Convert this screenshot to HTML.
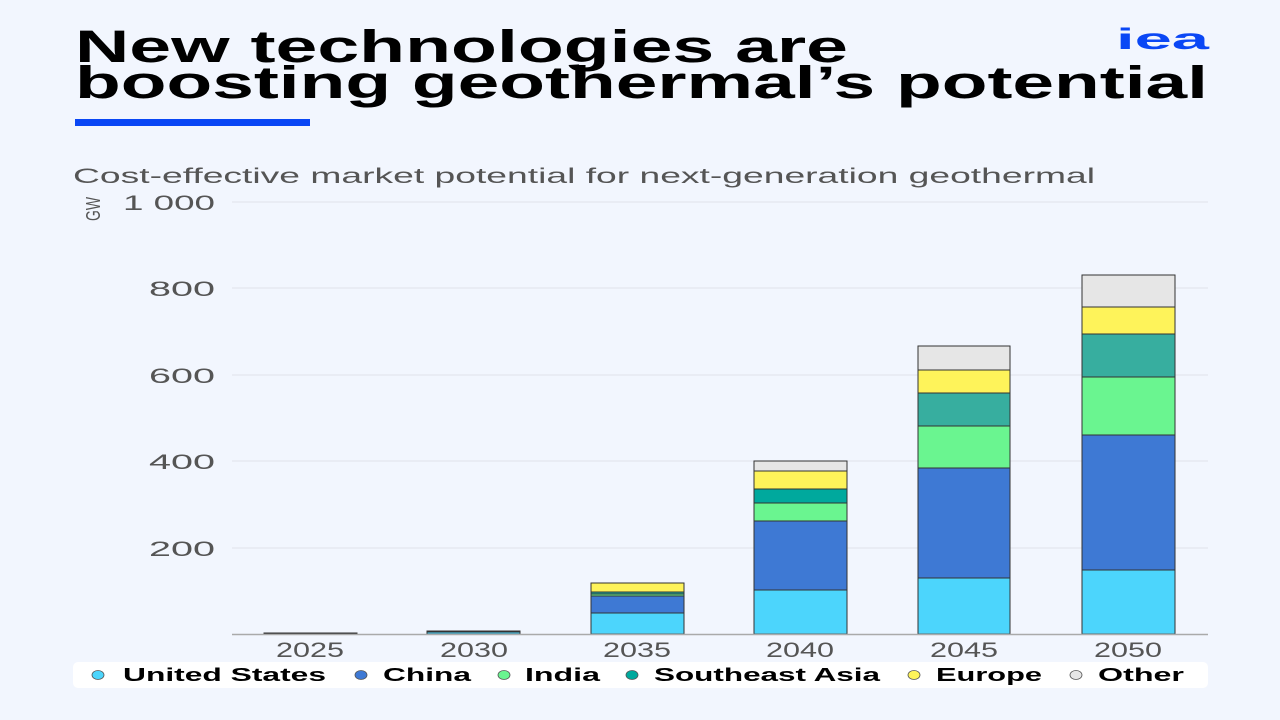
<!DOCTYPE html>
<html><head><meta charset="utf-8"><style>
html,body{margin:0;padding:0;background:#f2f6fe;}
svg{display:block;font-family:"Liberation Sans",sans-serif;}
</style></head><body>
<svg width="1280" height="720" viewBox="0 0 1280 720">
<rect width="1280" height="720" fill="#f2f6fe"/>
<text x="75" y="62" font-size="45" font-weight="bold" textLength="773" lengthAdjust="spacingAndGlyphs" fill="#000">New technologies are</text>
<text x="75" y="98" font-size="45" font-weight="bold" textLength="1133" lengthAdjust="spacingAndGlyphs" fill="#000">boosting geothermal’s potential</text>
<rect x="75" y="119" width="235" height="7" fill="#0a47f5"/>
<text x="1116" y="49" font-size="30" font-weight="bold" textLength="93" lengthAdjust="spacingAndGlyphs" fill="#0a47f5">iea</text>
<text x="73" y="183" font-size="21" fill="#555" textLength="1022" lengthAdjust="spacingAndGlyphs">Cost-effective market potential for next-generation geothermal</text>
<text transform="translate(100,221) rotate(-90)" font-size="20" fill="#555" textLength="24" lengthAdjust="spacingAndGlyphs">GW</text>
<g stroke="#e0e3ea" stroke-width="1">
<line x1="232" y1="202" x2="1208" y2="202"/><line x1="232" y1="288" x2="1208" y2="288"/>
<line x1="232" y1="375" x2="1208" y2="375"/><line x1="232" y1="461" x2="1208" y2="461"/>
<line x1="232" y1="548" x2="1208" y2="548"/>
</g>
<g font-size="21" fill="#555" text-anchor="end">
<text x="215" y="210" textLength="92" lengthAdjust="spacingAndGlyphs">1 000</text>
<text x="215" y="296" textLength="66" lengthAdjust="spacingAndGlyphs">800</text>
<text x="215" y="383" textLength="66" lengthAdjust="spacingAndGlyphs">600</text>
<text x="215" y="469" textLength="66" lengthAdjust="spacingAndGlyphs">400</text>
<text x="215" y="556" textLength="66" lengthAdjust="spacingAndGlyphs">200</text>
</g>
<g stroke="#333" stroke-width="1">
<rect x="264" y="633" width="93" height="1" fill="#222"/>
<rect x="427" y="632" width="93" height="2" fill="#4cd5fc"/>
<rect x="427" y="631" width="93" height="1" fill="#b08a00"/>
<rect x="591" y="613" width="93" height="21" fill="#4cd5fc"/>
<rect x="591" y="596" width="93" height="17" fill="#3e79d4"/>
<rect x="591" y="594" width="93" height="2" fill="#6af590"/>
<rect x="591" y="592" width="93" height="2" fill="#1aab9d"/>
<rect x="591" y="583" width="93" height="9" fill="#fef35a"/>
<rect x="754" y="590" width="93" height="44" fill="#4cd5fc"/>
<rect x="754" y="521" width="93" height="69" fill="#3e79d4"/>
<rect x="754" y="503" width="93" height="18" fill="#6af590"/>
<rect x="754" y="489" width="93" height="14" fill="#00a99d"/>
<rect x="754" y="471" width="93" height="18" fill="#fef35a"/>
<rect x="754" y="461" width="93" height="10" fill="#e6e6e6"/>
<rect x="918" y="578" width="92" height="56" fill="#4cd5fc"/>
<rect x="918" y="468" width="92" height="110" fill="#3e79d4"/>
<rect x="918" y="426" width="92" height="42" fill="#6af590"/>
<rect x="918" y="393" width="92" height="33" fill="#37ae9f"/>
<rect x="918" y="370" width="92" height="23" fill="#fef35a"/>
<rect x="918" y="346" width="92" height="24" fill="#e6e6e6"/>
<rect x="1082" y="570" width="93" height="64" fill="#4cd5fc"/>
<rect x="1082" y="435" width="93" height="135" fill="#3e79d4"/>
<rect x="1082" y="377" width="93" height="58" fill="#6af590"/>
<rect x="1082" y="334" width="93" height="43" fill="#37ae9f"/>
<rect x="1082" y="307" width="93" height="27" fill="#fef35a"/>
<rect x="1082" y="275" width="93" height="32" fill="#e6e6e6"/>
</g>
<line x1="232" y1="634.5" x2="1208" y2="634.5" stroke="#aaa" stroke-width="1.5"/>
<g font-size="21" fill="#555" text-anchor="middle">
<text x="310" y="657" textLength="68" lengthAdjust="spacingAndGlyphs">2025</text>
<text x="474" y="657" textLength="68" lengthAdjust="spacingAndGlyphs">2030</text>
<text x="637" y="657" textLength="68" lengthAdjust="spacingAndGlyphs">2035</text>
<text x="800" y="657" textLength="68" lengthAdjust="spacingAndGlyphs">2040</text>
<text x="964" y="657" textLength="68" lengthAdjust="spacingAndGlyphs">2045</text>
<text x="1128" y="657" textLength="68" lengthAdjust="spacingAndGlyphs">2050</text>
</g>
<rect x="73" y="662" width="1135" height="26" rx="5" fill="#fff"/>
<g stroke="#555" stroke-width="0.8">
<ellipse cx="98" cy="675" rx="6" ry="4.5" fill="#4cd5fc"/>
<ellipse cx="361" cy="675" rx="6" ry="4.5" fill="#3e79d4"/>
<ellipse cx="504" cy="675" rx="6" ry="4.5" fill="#6af590"/>
<ellipse cx="632" cy="675" rx="6" ry="4.5" fill="#00a99d"/>
<ellipse cx="914" cy="675" rx="6" ry="4.5" fill="#fef35a"/>
<ellipse cx="1076" cy="675" rx="6" ry="4.5" fill="#e6e6e6"/>
</g>
<g font-size="18" font-weight="bold" fill="#000">
<text x="123" y="681" textLength="203" lengthAdjust="spacingAndGlyphs">United States</text>
<text x="383" y="681" textLength="88" lengthAdjust="spacingAndGlyphs">China</text>
<text x="525" y="681" textLength="75" lengthAdjust="spacingAndGlyphs">India</text>
<text x="654" y="681" textLength="226" lengthAdjust="spacingAndGlyphs">Southeast Asia</text>
<text x="936" y="681" textLength="106" lengthAdjust="spacingAndGlyphs">Europe</text>
<text x="1098" y="681" textLength="86" lengthAdjust="spacingAndGlyphs">Other</text>
</g>
</svg>
</body></html>
